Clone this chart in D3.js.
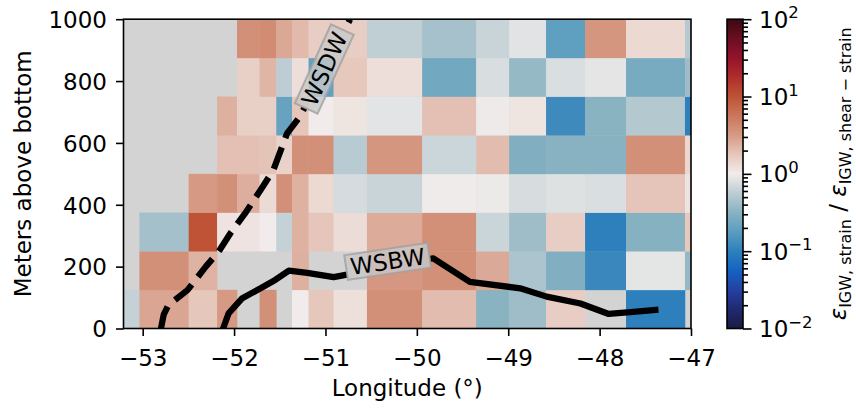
<!DOCTYPE html>
<html lang="en">
  <head>
    <meta charset="UTF-8" />
    <title>Strain / shear-strain ratio section</title>
    <style>
      body {
        margin: 0;
        overflow: hidden;
        background: #fff;
      }
      text {
        font-family: "DejaVu Sans", sans-serif;
        fill: #000;
      }
      .tick line {
        stroke: #000;
        stroke-width: 1.6px;
      }
    </style>
    <script src="https://unpkg.com/d3@7.8.1/dist/d3.min.js"></script>
  </head>
  <body>
    <script>
      const { select, scaleLinear, scaleLog, axisLeft, axisBottom, axisRight, line } = d3;

//Data
      // cell edges: longitude bins (irregular) and height bins
      const lonEdges = [-53.21, -53.036, -52.497, -52.186, -51.968, -51.721, -51.538, -51.366,
        -51.185, -50.911, -50.546, -49.942, -49.351, -48.99, -48.586, -48.159, -47.711, -47.066, -46.95];
      const heightEdges = [0, 125, 250, 375, 500, 625, 750, 875, 1000];

      // ratio per cell, one array per height bin (bottom to top), null = no data
      const ratioRow0 = [0.61, 2.75, 1.78, 3.2, null, 3.7, null, 1.0, 1.78, 1.23, 3.7, 2.05, 0.32, 0.4, 1.62, null, 0.1, null];
      const ratioRow1 = [null, 3.7, 2.3, null, null, null, null, 2.4, null, null, 3.3, 3.7, 2.6, 0.46, 0.29, 0.115, 0.87, 0.36];
      const ratioRow2 = [null, 0.43, 10, 1.15, 1.15, 1.0, 0.61, 2.35, 1.8, 1.28, 2.55, 3.7, 0.65, 0.4, 1.62, 0.1, 0.31, 1.75];
      const ratioRow3 = [null, null, 3.2, 3.7, 2.45, 1.32, 3.7, 2.35, 1.35, 0.73, 0.645, 0.98, 0.95, 0.75, 0.81, 0.77, 1.82, 1.15];
      const ratioRow4 = [null, null, null, 1.95, 1.95, 1.85, 1.5, 3.7, 3.7, 0.54, 3.4, 0.66, 2.05, 0.29, 0.316, 0.316, 3.7, 1.4];
      const ratioRow5 = [null, null, null, 2.4, 1.55, 1.55, 0.21, 1.8, 1.0, 1.14, 0.86, 1.95, 0.97, 1.14, 0.123, 0.32, 0.51, 0.1];
      const ratioRow6 = [null, null, null, null, 1.55, 2.25, 0.56, 1.25, 0.2, 1.75, 1.24, 0.24, 0.76, 0.37, 0.77, 0.88, 0.26, 0.4];
      const ratioRow7 = [null, null, null, null, 3.7, 4.0, 2.65, 2.1, 1.62, 1.62, 0.58, 0.44, 0.64, 0.85, 0.19, 3.4, 1.35, 0.52];
      const ratioRows = [ratioRow0, ratioRow1, ratioRow2, ratioRow3, ratioRow4, ratioRow5, ratioRow6, ratioRow7];

      // water mass boundaries [lon, height]
      const wsdwLon = [-52.8, -52.77, -52.72, -52.51, -52.31, -52.17, -52.04, -51.88, -51.71, -51.57, -51.42, -51.28, -50.73];
      const wsdwHeight = [0, 45, 75, 124, 200, 248, 308, 372, 448, 512, 631, 685, 1000];
      const wsbwLon = [-52.12, -52.06, -51.91, -51.71, -51.55, -51.4, -51.2, -50.91, -49.82, -49.42, -48.87, -48.58, -48.21, -47.9, -47.63, -47.39];
      const wsbwHeight = [0, 49, 98, 130, 157, 187, 180, 166, 227, 151, 130, 103, 81, 47, 54, 60];

      const labelNames = ["WSDW", "WSBW"];
      const labelLon = [-51.013, -50.319];
      const labelHeight = [839, 217];
      const labelAngle = [-65.4, -8.5];

      const xTicks = [-53, -52, -51, -50, -49, -48, -47];
      const yTicks = [0, 200, 400, 600, 800, 1000];
      const cbarMajor = [1e-2, 1e-1, 1, 1e1, 1e2];
      const cbarExp = ["\u22122", "\u22121", "0", "1", "2"];

      // cmocean "balance"-like colormap
      const cmapPos = [0, 0.0625, 0.125, 0.1875, 0.25, 0.3125, 0.375, 0.4375, 0.5, 0.5625, 0.625, 0.6875, 0.75, 0.8125, 0.875, 0.9375, 1];
      const cmapColors = ["#181c43", "#21296f", "#2440a3", "#1562c1", "#2e80bc", "#5a9dbf", "#88b2c1", "#bdcdd3", "#f1eceb",
        "#e6c7bc", "#d69a84", "#cb775d", "#be5336", "#ae2e2c", "#94132b", "#6a0e22", "#3c0912"];

//Layout
      const width = 856;
      const height = 410;
      const plot = { left: 123.5, right: 691, top: 19.2, bottom: 328.5 };
      const cbar = { left: 727, right: 743 };
      const fontSize = 23;

      const svg = select("body").append("svg")
        .attr("width", width)
        .attr("height", height);

      const x = scaleLinear().domain([-53.21, -47]).range([plot.left, plot.right]);
      const y = scaleLinear().domain([0, 1000]).range([plot.bottom, plot.top]);
      const norm = scaleLog().domain([1e-2, 1e2]).range([0, 1]).clamp(true);
      const cmap = scaleLinear().domain(cmapPos).range(cmapColors).interpolate(d3.interpolateRgb);
      const color = v => cmap(norm(v));

      const defs = svg.append("defs");
      defs.append("clipPath").attr("id", "plotClip")
        .append("rect")
        .attr("x", plot.left).attr("y", plot.top)
        .attr("width", plot.right - plot.left).attr("height", plot.bottom - plot.top);

      // NaN background
      svg.append("rect")
        .attr("x", plot.left).attr("y", plot.top)
        .attr("width", plot.right - plot.left).attr("height", plot.bottom - plot.top)
        .attr("fill", "#d3d3d3");

      const cells = [];
      ratioRows.forEach((row, j) => {
        row.forEach((v, i) => {
          if (v !== null) cells.push({ i, j, v });
        });
      });

      svg.append("g").attr("clip-path", "url(#plotClip)")
        .selectAll("rect")
        .data(cells)
        .enter()
        .append("rect")
        .attr("x", d => x(lonEdges[d.i]))
        .attr("y", d => y(heightEdges[d.j + 1]))
        .attr("width", d => x(lonEdges[d.i + 1]) - x(lonEdges[d.i]) + 0.3)
        .attr("height", d => y(heightEdges[d.j]) - y(heightEdges[d.j + 1]) + 0.3)
        .attr("fill", d => color(d.v));

      // label boxes, measured first so the lines can be masked under them
      const labels = labelNames.map((name, k) => ({
        name, cx: x(labelLon[k]), cy: y(labelHeight[k]), angle: labelAngle[k]
      }));
      const measure = svg.append("text").attr("font-size", fontSize);
      labels.forEach(l => {
        measure.text(l.name);
        l.w = measure.node().getComputedTextLength() + 9;
        l.h = 25;
      });
      measure.remove();

      const mask = defs.append("mask").attr("id", "lineMask")
        .attr("maskUnits", "userSpaceOnUse")
        .attr("x", 0).attr("y", 0).attr("width", width).attr("height", height);
      mask.append("rect").attr("width", width).attr("height", height).attr("fill", "#fff");
      mask.selectAll(".hole").data(labels).enter().append("rect")
        .attr("transform", d => `translate(${d.cx},${d.cy}) rotate(${d.angle})`)
        .attr("x", d => -d.w / 2).attr("y", d => -d.h / 2)
        .attr("width", d => d.w).attr("height", d => d.h)
        .attr("fill", "#000");

      const path = line().x(d => x(d[0])).y(d => y(d[1]));
      const lines = svg.append("g").attr("clip-path", "url(#plotClip)")
        .append("g").attr("mask", "url(#lineMask)");

      lines.append("path")
        .datum(wsdwLon.map((lon, k) => [lon, wsdwHeight[k]]))
        .attr("d", path)
        .attr("fill", "none")
        .attr("stroke", "#000")
        .attr("stroke-width", 6.25)
        .attr("stroke-dasharray", "23,10")
        .attr("stroke-linejoin", "round");

      lines.append("path")
        .datum(wsbwLon.map((lon, k) => [lon, wsbwHeight[k]]))
        .attr("d", path)
        .attr("fill", "none")
        .attr("stroke", "#000")
        .attr("stroke-width", 6.25)
        .attr("stroke-linecap", "square")
        .attr("stroke-linejoin", "round");

      const lab = svg.append("g").selectAll("g").data(labels).enter().append("g")
        .attr("transform", d => `translate(${d.cx},${d.cy}) rotate(${d.angle})`);
      lab.append("rect")
        .attr("x", d => -d.w / 2).attr("y", d => -d.h / 2)
        .attr("width", d => d.w).attr("height", d => d.h)
        .attr("fill", "#c8c8c8").attr("fill-opacity", 0.8)
        .attr("stroke", "#a0a0a0").attr("stroke-opacity", 0.8).attr("stroke-width", 2);
      lab.append("text")
        .attr("text-anchor", "middle")
        .attr("dy", "0.36em")
        .attr("font-size", fontSize)
        .text(d => d.name);

//Axes
      const yAxis = svg.append("g")
        .attr("transform", `translate(${plot.left},0)`)
        .call(axisLeft(y).tickValues(yTicks).tickSize(7.5).tickSizeOuter(0).tickPadding(9).tickFormat(d3.format("d")));
      yAxis.select(".domain").remove();
      yAxis.selectAll("text").attr("font-size", fontSize).attr("font-family", "DejaVu Sans").attr("dy", "0.36em");

      const xAxis = svg.append("g")
        .attr("transform", `translate(0,${plot.bottom})`)
        .call(axisBottom(x).tickValues(xTicks).tickSize(7.5).tickSizeOuter(0).tickFormat(d3.format("d")));
      xAxis.select(".domain").remove();
      xAxis.selectAll("text").attr("font-size", fontSize).attr("font-family", "DejaVu Sans")
        .attr("y", 37.5).attr("dy", 0);

      svg.append("rect")
        .attr("x", plot.left).attr("y", plot.top)
        .attr("width", plot.right - plot.left).attr("height", plot.bottom - plot.top)
        .attr("fill", "none").attr("stroke", "#000").attr("stroke-width", 1.6);

      svg.append("text")
        .attr("x", (plot.left + plot.right) / 2).attr("y", 396)
        .attr("text-anchor", "middle").attr("font-size", fontSize)
        .text("Longitude (°)");

      svg.append("text")
        .attr("transform", `translate(31,${(plot.top + plot.bottom) / 2}) rotate(-90)`)
        .attr("text-anchor", "middle").attr("font-size", fontSize)
        .text("Meters above bottom");

//Colorbar
      const cy = scaleLog().domain([1e-2, 1e2]).range([plot.bottom, plot.top]);
      const grad = defs.append("linearGradient").attr("id", "cbarGrad")
        .attr("x1", 0).attr("y1", 1).attr("x2", 0).attr("y2", 0);
      grad.selectAll("stop").data(cmapPos).enter().append("stop")
        .attr("offset", d => d)
        .attr("stop-color", (d, k) => cmapColors[k]);

      svg.append("rect")
        .attr("x", cbar.left).attr("y", plot.top)
        .attr("width", cbar.right - cbar.left).attr("height", plot.bottom - plot.top)
        .attr("fill", "url(#cbarGrad)");

      const minor = cy.ticks().filter(v => !cbarMajor.some(m => Math.abs(m - v) / m < 1e-6));
      svg.append("g")
        .attr("transform", `translate(${cbar.right},0)`)
        .call(axisRight(cy).tickValues(minor).tickSize(5).tickSizeOuter(0).tickFormat(""))
        .select(".domain").remove();
      svg.append("g")
        .attr("transform", `translate(${cbar.right},0)`)
        .call(axisRight(cy).tickValues(cbarMajor).tickSize(8.5).tickSizeOuter(0).tickFormat(""))
        .select(".domain").remove();

      const cbLabels = svg.append("g").selectAll("text").data(cbarMajor).enter().append("text")
        .attr("x", 759)
        .attr("y", d => cy(d) + 8.5)
        .attr("font-size", fontSize);
      cbLabels.append("tspan").text("10");
      cbLabels.append("tspan")
        .attr("dy", -9.5)
        .attr("font-size", 16.5)
        .text((d, k) => cbarExp[k]);

      svg.append("rect")
        .attr("x", cbar.left).attr("y", plot.top)
        .attr("width", cbar.right - cbar.left).attr("height", plot.bottom - plot.top)
        .attr("fill", "none").attr("stroke", "#000").attr("stroke-width", 1.6);

      const cbTitle = svg.append("text")
        .attr("transform", `translate(846,${(plot.top + plot.bottom) / 2}) rotate(-90)`)
        .attr("text-anchor", "middle")
        .attr("font-size", fontSize);
      cbTitle.append("tspan").attr("font-style", "italic").text("ε");
      cbTitle.append("tspan").attr("font-size", 16).attr("dy", 4.5).text("IGW, strain");
      cbTitle.append("tspan").attr("dy", -4.5).text(" / ");
      cbTitle.append("tspan").attr("font-style", "italic").text("ε");
      cbTitle.append("tspan").attr("font-size", 16).attr("dy", 4.5).text("IGW, shear \u2212 strain");
    </script>
  </body>
</html>
